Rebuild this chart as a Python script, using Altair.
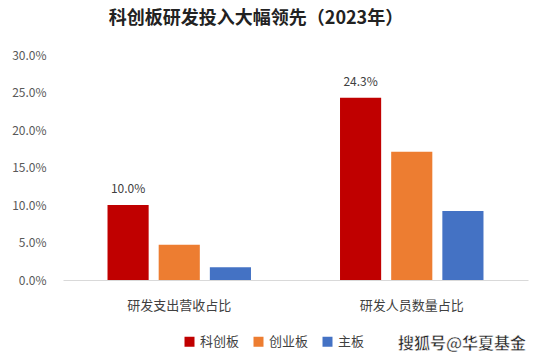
import altair as alt
import pandas as pd

title_text = "科创板研发投入大幅领先（2023年）"
categories = ["研发支出营收占比", "研发人员数量占比"]
series = ["科创板", "创业板", "主板"]
values_kc = [0.100, 0.243]
values_cy = [0.047, 0.171]
values_zb = [0.017, 0.092]
colors = ["#C00000", "#ED7D31", "#4472C4"]
y_ticks = [0, 0.05, 0.1, 0.15, 0.2, 0.25, 0.3]
watermark_text = "搜狐号@华夏基金"

rows = []
for i, c in enumerate(categories):
    for s, vals in zip(series, [values_kc, values_cy, values_zb]):
        rows.append({"cat": c, "series": s, "value": vals[i]})
df = pd.DataFrame(rows)

FONT = "Noto Sans CJK SC"

x_scale = alt.Scale(paddingInner=0, paddingOuter=0)
xo_scale = alt.Scale(paddingInner=0.196, paddingOuter=0.87)
y_scale = alt.Scale(domain=[0, 0.3], nice=False)
x_axis = alt.Axis(labelAngle=0, ticks=False, domainColor="#D9D9D9",
                  labelPadding=19, labelFontSize=13, labelColor="#404040",
                  labelFont=FONT)
y_axis = alt.Axis(format=".1%", values=y_ticks,
                  labelOverlap=False, ticks=False, domain=False, grid=False,
                  labelPadding=17, labelFontSize=12, labelColor="#595959",
                  labelFont=FONT)

x_enc = alt.X("cat:N", sort=categories, title=None, scale=x_scale, axis=x_axis)
xo_enc = alt.XOffset("series:N", sort=series, scale=xo_scale)
y_enc = alt.Y("value:Q", title=None, scale=y_scale, axis=y_axis)

bars = alt.Chart(df).mark_bar().encode(
    x=x_enc,
    xOffset=xo_enc,
    y=y_enc,
    color=alt.Color("series:N", sort=series,
                    scale=alt.Scale(domain=series, range=colors),
                    legend=alt.Legend(title=None, orient="none", direction="horizontal",
                                      legendX=120, legendY=280,
                                      symbolType="square", symbolSize=100,
                                      symbolStrokeWidth=0, labelFontSize=13,
                                      labelColor="#404040", labelFont=FONT,
                                      columnPadding=12, symbolOffset=0,
                                      labelOffset=4)),
)

labels = alt.Chart(df).transform_filter(alt.datum.series == "科创板").mark_text(
    baseline="bottom", dy=-9, fontSize=12, color="#404040", font=FONT
).encode(
    x=x_enc,
    xOffset=xo_enc,
    y=y_enc,
    text=alt.Text("value:Q", format=".1%"),
)

title_df = pd.DataFrame({"t": [title_text]})
title = alt.Chart(title_df).mark_text(
    align="center", baseline="middle", fontSize=18, font=FONT, fontWeight="bold",
    color="#222222"
).encode(text="t:N", x=alt.value(193), y=alt.value(-36))

wm_df = pd.DataFrame({"t": [watermark_text]})
watermark = alt.Chart(wm_df).mark_text(
    align="right", baseline="middle", fontSize=16, font=FONT, fontWeight="bold",
    color="#222222", stroke="white", strokeWidth=0.5
).encode(text="t:N", x=alt.value(463), y=alt.value(289))

chart = alt.layer(bars, labels, title, watermark).properties(
    width=465, height=225,
    autosize=alt.AutoSizeParams(type="none"),
    padding={"left": 55, "top": 47, "right": 6, "bottom": 74},
).configure_view(stroke=None)

chart.save("out.html", embed_options={"renderer": "svg", "actions": False})
